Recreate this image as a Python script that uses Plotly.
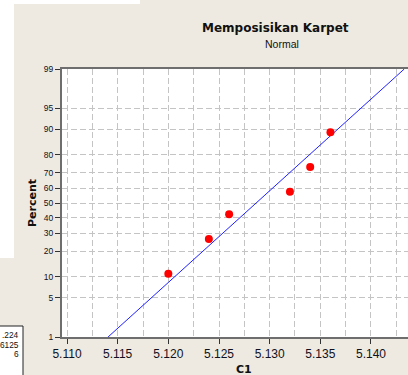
import plotly.graph_objects as go
from statistics import NormalDist, mean, stdev

# ---- data ----
c1_values = [5.120, 5.124, 5.126, 5.132, 5.134, 5.136]
percent_ticks = [1, 5, 10, 20, 30, 40, 50, 60, 70, 80, 90, 95, 99]
x_ticks = [5.110, 5.115, 5.120, 5.125, 5.130, 5.135, 5.140]
x_tick_labels = ["5.110", "5.115", "5.120", "5.125", "5.130", "5.135", "5.140"]
box_texts = [".224", "6125", "6"]

nd = NormalDist()
n = len(c1_values)
xs = sorted(c1_values)
pct = [(i + 1 - 0.3) / (n + 0.4) * 100 for i in range(n)]  # median ranks
zs = [nd.inv_cdf(p / 100) for p in pct]

mu = mean(c1_values)
sd = stdev(c1_values)
zlo, zhi = nd.inv_cdf(0.01), nd.inv_cdf(0.99)
line_x = [mu + sd * zlo, mu + sd * zhi]
line_z = [zlo, zhi]

W, H = 408, 375
L, R, T, B = 62, 408, 69, 337

def pxp(x):
    return (x - L) / (R - L)

def pyp(y):
    return (B - y) / (B - T)

beige = "#EEEAE1"
grid = "#C4C4C4"
axc = "#6E6E6E"
txt = "#101020"

fig = go.Figure()
fig.add_trace(go.Scatter(x=line_x, y=line_z, mode="lines",
                         line=dict(color="#2020FF", width=1), hoverinfo="skip"))
fig.add_trace(go.Scatter(x=xs, y=zs, mode="markers",
                         marker=dict(color="#FF0000", size=8)))

fig.update_layout(
    width=W, height=H,
    margin=dict(l=L, r=W - R, t=T, b=H - B, pad=0),
    paper_bgcolor=beige, plot_bgcolor="white",
    showlegend=False,
    font=dict(family="DejaVu Sans", color=txt),
)

fig.update_xaxes(
    range=[5.110 - 5 / 10133, 5.110 - 5 / 10133 + (R - L) / 10133],
    tickvals=x_ticks, ticktext=x_tick_labels,
    tickfont=dict(family="Liberation Sans", size=12, color=txt),
    ticks="outside", ticklen=5, tickcolor="#333", tickwidth=1,
    showgrid=True, gridcolor=grid, griddash="6px,3px", gridwidth=1,
    minor=dict(tick0=5.1125, dtick=0.005, showgrid=True, gridcolor=grid,
               griddash="6px,3px", gridwidth=1, ticks=""),
    showline=True, linecolor=axc, linewidth=2, mirror=True,
    zeroline=False,
)
fig.update_yaxes(
    range=[zlo, zhi],
    tickvals=[nd.inv_cdf(p / 100) for p in percent_ticks],
    ticktext=[str(p) for p in percent_ticks],
    tickfont=dict(family="Liberation Sans", size=8.5, color=txt),
    ticks="outside", ticklen=5, tickcolor="#333", tickwidth=1,
    showgrid=True, gridcolor=grid, griddash="6px,3px", gridwidth=1,
    showline=True, linecolor=axc, linewidth=2, mirror=False,
    zeroline=False,
)

shapes = [
    # white strip at left
    dict(type="rect", xref="paper", yref="paper", x0=pxp(-2), x1=pxp(14),
         y0=pyp(258), y1=pyp(-2), fillcolor="white", line=dict(width=0), layer="below"),
    dict(type="rect", xref="paper", yref="paper", x0=pxp(-2), x1=pxp(140),
         y0=pyp(4), y1=pyp(-2), fillcolor="white", line=dict(width=0), layer="below"),
    # bottom-left stats box
    dict(type="rect", xref="paper", yref="paper", x0=pxp(-5), x1=pxp(23),
         y0=pyp(380), y1=pyp(326), fillcolor="white",
         line=dict(color="#222", width=1), layer="above"),
]
fig.update_layout(shapes=shapes)

ann = [
    dict(text="<b>Memposisikan Karpet</b>", x=pxp(275), y=pyp(28),
         font=dict(family="DejaVu Sans", size=12, color="#111")),
    dict(text="Normal", x=pxp(282), y=pyp(44),
         font=dict(family="Liberation Sans", size=10.5, color="#111")),
    dict(text="<b>Percent</b>", x=pxp(32), y=pyp(203), textangle=-90,
         font=dict(family="DejaVu Sans", size=11, color="#111")),
    dict(text="<b>C1</b>", x=pxp(244), y=pyp(369),
         font=dict(family="DejaVu Sans", size=11, color="#111")),
]
for i, t in enumerate(box_texts):
    ann.append(dict(text=t, x=pxp(20.5), y=pyp(335 + 9.5 * i), xanchor="right",
                    font=dict(family="Liberation Sans", size=8.3, color="#111")))
for a in ann:
    a.setdefault("xanchor", "center")
    a.update(xref="paper", yref="paper", yanchor="middle", showarrow=False)
fig.update_layout(annotations=ann)

fig.write_html("out.html")
